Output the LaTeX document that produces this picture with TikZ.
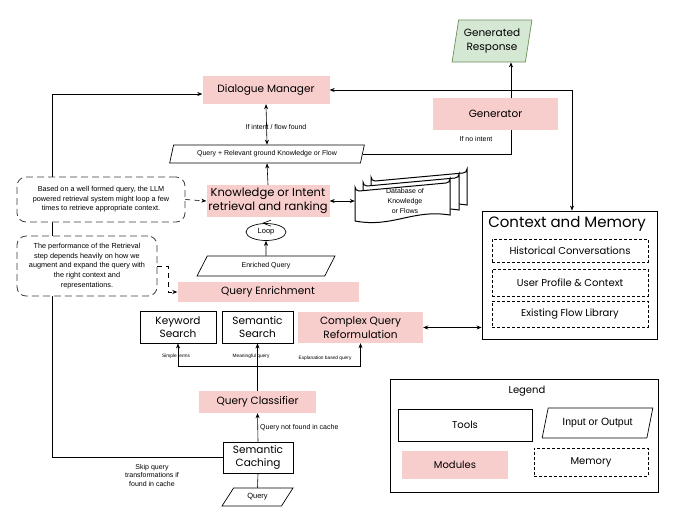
\documentclass[tikz,border=0pt]{standalone}
\usepackage{fontspec}
\setmainfont{Liberation Sans}
\newfontfamily\hand{Poppins}
\usetikzlibrary{shapes.geometric,arrows.meta,calc,backgrounds}
\definecolor{pinkm}{HTML}{F8CECC}
\definecolor{gfill}{HTML}{D5E8D4}
\definecolor{gline}{HTML}{6D8F5A}
\newcommand\hfs[2]{\hand\fontsize{#1}{#2}\selectfont}
\newcommand\docpath[4]{%
  \filldraw[fill=white,line width=1pt] (#1,#4) -- (#1,#2+4) arc[start angle=180,end angle=90,radius=4] -- (#3-4,#2) arc[start angle=90,end angle=0,radius=4] -- (#3,#4-6)
  .. controls (#1+0.6*#3-0.6*#1,#4-12) and (#1+0.4*#3-0.4*#1,#4+7) .. (#1,#4) -- cycle;}
\begin{document}
\begin{tikzpicture}[x=1pt,y=-1pt,
  module/.style={fill=pinkm,draw=none,align=center,inner sep=0pt},
  tool/.style={draw,line width=0.9pt,fill=white,align=center,inner sep=0pt},
  io/.style={trapezium,trapezium stretches=true,draw,line width=0.7pt,fill=white,align=center,inner sep=0pt,font=\fontsize{7}{8.5}\selectfont},
  mem/.style={draw,densely dashed,line width=0.8pt,fill=white,align=center,inner sep=0pt,font=\hfs{10}{12}},
  note/.style={draw=black!75,dash pattern=on 7pt off 4pt,line width=0.8pt,rounded corners=9pt,fill=white,align=center,inner sep=0pt,font=\fontsize{7.3}{9.6}\selectfont},
  lbl/.style={font=\fontsize{7}{8.5}\selectfont,align=center,inner sep=0pt},
  tiny/.style={font=\fontsize{4.8}{5.5}\selectfont,inner sep=0pt},
  arr/.style={-{Stealth[length=5pt,width=4pt]},line width=0.6pt},
  arrr/.style={{Stealth[length=5pt,width=4pt]}-{Stealth[length=5pt,width=4pt]},line width=0.6pt},
  darr/.style={-{Stealth[length=5pt,width=4pt]},line width=0.6pt,dash pattern=on 5pt off 4pt},
]
\useasboundingbox (0,0) rectangle (684,520);

% ---------- nodes ----------
\node[io,fill=gfill,draw=gline,trapezium left angle=77,trapezium right angle=103,minimum width=80,minimum height=42,font=\hfs{10.5}{13.5}] (resp) at (492,41) {Generated\\Response};
\node[module,minimum width=127,minimum height=28,font=\hfs{10.5}{13}] (dm) at (266,90) {Dialogue Manager};
\node[io,trapezium left angle=66,trapezium right angle=114,minimum width=195,minimum height=18] (qrel) at (267,154) {Query + Relevant ground Knowledge or Flow};
\node[module,minimum width=123,minimum height=32,font=\hfs{11.5}{14.5}] (kn) at (268,201) {Knowledge or Intent\\retrieval and ranking};
\node[draw,ellipse,line width=0.7pt,minimum width=40,minimum height=17,inner sep=0pt,font=\fontsize{7.5}{9}\selectfont] (loop) at (266,232) {Loop};
\node[io,trapezium left angle=57,trapezium right angle=123,minimum width=138,minimum height=20] (enr) at (266,266) {Enriched Query};
\node[module,minimum width=181,minimum height=20,font=\hfs{10.5}{13}] (qe) at (268,292) {Query Enrichment};
\node[tool,minimum width=76,minimum height=32,font=\hfs{10.5}{13.5}] (ks) at (178,327) {Keyword\\Search};
\node[tool,minimum width=71,minimum height=32,font=\hfs{10.5}{13.5}] (ss) at (257.5,327) {Semantic\\Search};
\node[module,minimum width=125,minimum height=31,font=\hfs{10.5}{13.5}] (cqr) at (360.5,327.5) {Complex Query\\Reformulation};
\node[module,minimum width=117,minimum height=22,font=\hfs{10.5}{13}] (qc) at (257.5,402) {Query Classifier};
\node[tool,minimum width=70,minimum height=31,font=\hfs{10.5}{13.5}] (sc) at (258,457.5) {Semantic\\Caching};
\node[io,trapezium left angle=54,trapezium right angle=126,minimum width=71,minimum height=18,font=\fontsize{7.5}{9}\selectfont] (q) at (257.5,497) {Query};
\node[module,minimum width=125,minimum height=32,font=\hfs{10.5}{13}] (gen) at (495.5,114) {Generator};

% database
\docpath{371}{173}{467}{211}
\docpath{363}{178}{459}{216}
\docpath{355}{183}{450}{221}
\node[draw=none,minimum width=95,minimum height=38,inner sep=0pt] (db) at (402.5,201) {};
\node[inner sep=0pt,align=center,font=\fontsize{7}{10}\selectfont] (dbt) at (405,201) {Database of\\Knowledge\\or Flows};

% context and memory
\node[draw,line width=0.9pt,fill=white,minimum width=175,minimum height=128,inner sep=0pt] (cm) at (569.5,275) {};
\node[font=\hfs{15}{17},inner sep=0pt] (cmt) at (567,224) {Context and Memory};
\node[mem,minimum width=156,minimum height=23] (hc) at (570,250.5) {Historical Conversations};
\node[mem,minimum width=156,minimum height=27] (up) at (570,282.5) {User Profile \& Context};
\node[mem,minimum width=156,minimum height=26] (ef) at (570,314) {Existing Flow Library};

% notes
\node[note,minimum width=168,minimum height=45] (n1) at (101,199.5) {Based on a well formed query, the LLM\\powered retrieval system might loop a few\\times to retrieve appropriate context.};
\node[note,minimum width=140,minimum height=60] (n2) at (87,266) {The performance of the Retrieval\\step depends heavily on how we\\augment and expand the query with\\the right context and\\representations.};

% legend
\node[draw,line width=0.9pt,minimum width=268,minimum height=113,inner sep=0pt] (leg) at (524,435.5) {};
\node[font=\hfs{10}{12},inner sep=0pt] (legt) at (527,391) {Legend};
\node[tool,minimum width=134,minimum height=32,font=\hfs{10}{12}] (lt) at (465,425) {Tools};
\node[io,trapezium left angle=66,trapezium right angle=114,minimum width=111,minimum height=30,font=\fontsize{10.5}{12}\selectfont] (lio) at (597.5,423) {Input or Output};
\node[module,minimum width=106,minimum height=28,font=\hfs{10}{12}] (lm) at (455,465) {Modules};
\node[mem,minimum width=114,minimum height=28] (lmem) at (591,462) {Memory};

% ---------- connectors ----------
\coordinate (gx) at (511,0);
\coordinate (rx) at (572,0);
\coordinate (lcorner) at (52,94);
\coordinate (br) at (258,366);
\begin{scope}[on background layer]
\fill[white] (0,0) rectangle (684,520);
\draw[arr] (qrel.east) -| (gx |- resp.south);
\draw[arr] (sc.west) -| (lcorner) -- (lcorner -| dm.west);
\end{scope}
\node[lbl] (noint) at (476,139) {If no intent};
\draw[arrr] (dm.south) -- (qrel.north);
\node[lbl] (iff) at (276,127) {If intent / flow found};
\draw[arrr] (dm.east) -| (rx |- cm.north);
\draw[arr] (kn.north) -- (qrel.south);
\draw[arrr] (kn.east) -- (db.west);
\draw[arr] (enr.north) -- (loop.south);
\draw[line width=0.6pt] ([xshift=5pt,yshift=3pt]loop.north) -- ([xshift=-3pt]loop.north) -- ([xshift=5pt,yshift=-3pt]loop.north);
\draw[darr] (n1.east) -- (kn.west);
\draw[darr] (n2.east) -- ++(11,0) |- (qe.west);
\draw[arr] (qc.north) -- (ss.south);
\draw[arr] (br) -| (ks.south);
\draw[arr] (br) -| (cqr.south);
\node[tiny] (l1) at (176,356) {Simple terms};
\node[tiny] (l2) at (251,356) {Meaningful query};
\node[tiny] (l3) at (325,358) {Explanation based query};
\draw[arr] (sc.north) -- (qc.south);
\node[lbl,anchor=west] (nf) at (260,428) {Query not found in cache};
\draw[line width=0.6pt] (q.north) -- (sc.south);
\node[lbl] (skip) at (152,475) {Skip query\\transformations if\\found in cache};
\draw[arrr] (cqr.east) -- (cm.west |- cqr.east);
\end{tikzpicture}
\end{document}
